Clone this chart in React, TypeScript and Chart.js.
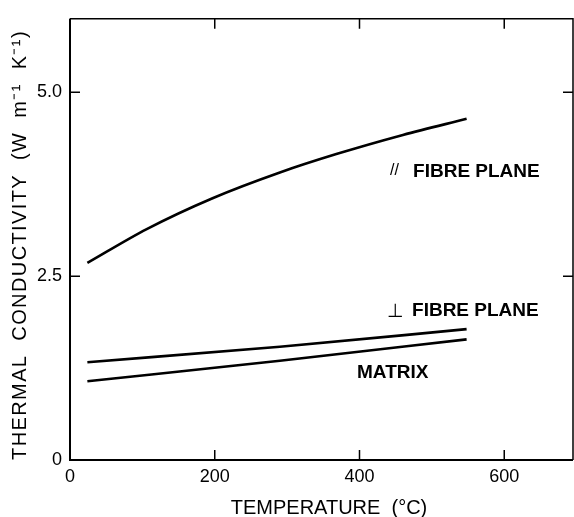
import React, { useEffect, useRef } from "react";
import { Chart, registerables } from "chart.js";

Chart.register(...registerables);

// ---- data ----
const xTicks = [0, 200, 400, 600];
const yTicks = [0, 2.5, 5.0];
const xMax = 695;
const yMax = 6;

const parallelT = [24, 106, 197, 290, 368, 460, 548];
const parallelK = [2.68, 3.14, 3.56, 3.91, 4.16, 4.42, 4.64];
const perpT = [24, 290, 548];
const perpK = [1.33, 1.54, 1.78];
const matrixT = [24, 290, 548];
const matrixK = [1.07, 1.35, 1.64];

const curveLabels = [
  { prefix: "//", text: "FIBRE PLANE", t: 474, k: 3.915 },
  { prefix: "\u22A5", text: "FIBRE PLANE", t: 472.6, k: 2.03 },
  { prefix: "", text: "MATRIX", t: 396.6, k: 1.18 },
];

const xTitle = "TEMPERATURE  (\u00B0C)";
const yTitle = "THERMAL  CONDUCTIVITY  (W  m\u207B\u00B9  K\u207B\u00B9)";

const toPoints = (xs: number[], ys: number[]) => xs.map((x, i) => ({ x, y: ys[i] }));

const FONT = "'Liberation Sans', Arial, Helvetica, sans-serif";

const framePlugin = {
  id: "frame",
  afterDraw(chart: any) {
    const { ctx, chartArea } = chart;
    const { left, right, top, bottom } = chartArea;
    const xs = chart.scales.x;
    const ys = chart.scales.y;
    ctx.save();
    ctx.strokeStyle = "#000";
    // spines
    ctx.lineWidth = 2;
    ctx.beginPath();
    ctx.moveTo(left, top);
    ctx.lineTo(left, bottom);
    ctx.lineTo(right, bottom);
    ctx.stroke();
    ctx.lineWidth = 1.5;
    ctx.beginPath();
    ctx.moveTo(left, top);
    ctx.lineTo(right, top);
    ctx.lineTo(right, bottom);
    ctx.stroke();
    // inward ticks
    ctx.lineWidth = 1.5;
    const tl = 10;
    xTicks.forEach((v) => {
      const px = xs.getPixelForValue(v);
      ctx.beginPath();
      ctx.moveTo(px, bottom);
      ctx.lineTo(px, bottom - tl);
      ctx.moveTo(px, top);
      ctx.lineTo(px, top + tl);
      ctx.stroke();
    });
    yTicks.forEach((v) => {
      const py = ys.getPixelForValue(v);
      ctx.beginPath();
      ctx.moveTo(left, py);
      ctx.lineTo(left + tl, py);
      ctx.moveTo(right, py);
      ctx.lineTo(right - tl, py);
      ctx.stroke();
    });
    // curve labels
    ctx.fillStyle = "#000";
    ctx.textBaseline = "middle";
    curveLabels.forEach((l) => {
      const px = xs.getPixelForValue(l.t);
      const py = ys.getPixelForValue(l.k);
      ctx.font = `bold 19px ${FONT}`;
      ctx.textAlign = "left";
      ctx.fillText(l.text, px, py);
      if (l.prefix === "//") {
        ctx.font = `16px ${FONT}`;
        ctx.fillText(l.prefix, px - 23, py - 2);
      } else if (l.prefix) {
        ctx.font = `19px 'DejaVu Sans', sans-serif`;
        ctx.fillText(l.prefix, px - 25, py + 1);
      }
    });
    // axis titles
    ctx.font = `20px ${FONT}`;
    ctx.textAlign = "center";
    ctx.fillText(xTitle, 329, 508);
    ctx.save();
    ctx.translate(20.5, 245);
    ctx.rotate(-Math.PI / 2);
    ctx.font = `20px ${FONT}`;
    (ctx as any).letterSpacing = "1.4px";
    ctx.fillText(yTitle, 0, 0);
    ctx.restore();
    ctx.restore();
  },
};

export default function App() {
  const ref = useRef<HTMLCanvasElement | null>(null);
  useEffect(() => {
    if (!ref.current) return;
    const lineStyle = {
      borderColor: "#000",
      borderWidth: 2.6,
      pointRadius: 0,
      fill: false,
      cubicInterpolationMode: "monotone" as const,
    };
    const chart = new Chart(ref.current, {
      type: "scatter",
      data: {
        datasets: [
          { label: "// fibre plane", data: toPoints(parallelT, parallelK), showLine: true, ...lineStyle },
          { label: "perp fibre plane", data: toPoints(perpT, perpK), showLine: true, ...lineStyle },
          { label: "matrix", data: toPoints(matrixT, matrixK), showLine: true, ...lineStyle },
        ],
      },
      options: {
        animation: false,
        responsive: false,
        maintainAspectRatio: false,
        devicePixelRatio: 1,
        layout: { padding: { top: 14, right: 1, left: 0, bottom: 0 } },
        plugins: { legend: { display: false }, tooltip: { enabled: false } },
        scales: {
          x: {
            type: "linear",
            min: 0,
            max: xMax,
            afterBuildTicks: (s: any) => {
              s.ticks = xTicks.map((v) => ({ value: v }));
            },
            afterFit: (s: any) => {
              s.height = 57;
            },
            grid: { display: false, drawTicks: false },
            border: { display: false },
            ticks: {
              color: "#000",
              padding: 6,
              font: { family: FONT, size: 18 },
              maxRotation: 0,
              autoSkip: false,
              callback: (v: any) => String(v),
            },
          },
          y: {
            type: "linear",
            min: 0,
            max: yMax,
            afterBuildTicks: (s: any) => {
              s.ticks = yTicks.map((v) => ({ value: v }));
            },
            afterFit: (s: any) => {
              s.width = 70;
            },
            grid: { display: false, drawTicks: false },
            border: { display: false },
            ticks: {
              color: "#000",
              padding: 8,
              font: { family: FONT, size: 18 },
              autoSkip: false,
              callback: (v: any) => (v === 0 ? "0" : Number(v).toFixed(1)),
            },
          },
        },
      },
      plugins: [framePlugin],
    });
    return () => chart.destroy();
  }, []);
  return (
    <div style={{ position: "fixed", left: 0, top: 0, width: 574, height: 517, background: "#fff" }}>
      <canvas ref={ref} width={574} height={517} style={{ display: "block", width: 574, height: 517 }} />
    </div>
  );
}
